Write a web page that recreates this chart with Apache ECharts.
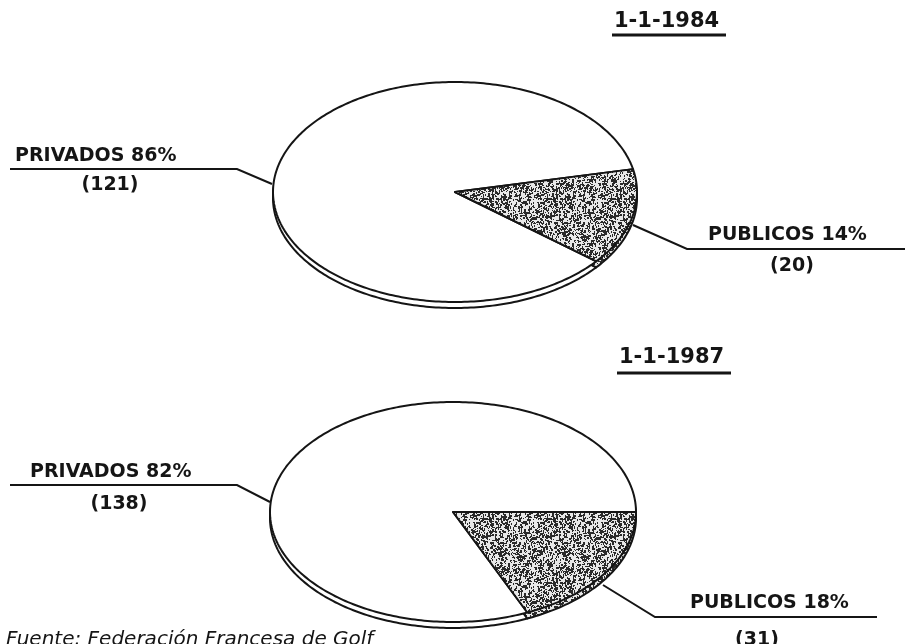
<!DOCTYPE html>
<html>
<head>
<meta charset="utf-8">
<script src="https://cdn.jsdelivr.net/npm/echarts@6/dist/echarts.min.js"></script>
<style>
html, body { margin: 0; padding: 0; background: #fff; }
#main { width: 905px; height: 644px; }
</style>
</head>
<body>
<div id="main"></div>
<script>
// datos
var categories = ['PRIVADOS', 'PUBLICOS'];
var dates = ['1-1-1984', '1-1-1987'];
var counts1984 = [121, 20];
var counts1987 = [138, 31];
var percents1984 = [86, 14];
var percents1987 = [82, 18];
var source = 'Fuente: Federación Francesa de Golf';

var counts = [counts1984, counts1987];
var percents = [percents1984, percents1987];

// disco inclinado: elipse + canto
var pies = [
    {cx: 455, cy: 192, rx: 182, ry: 110, start: 12},
    {cx: 453, cy: 512, rx: 183, ry: 110, start: 0}
];
var depth = 6;
var ink = '#151515';
var FONT = 'DejaVu Sans';

// trama punteada para PUBLICOS
function makeStipple() {
    var size = 64;
    var c = document.createElement('canvas');
    c.width = c.height = size;
    var g = c.getContext('2d');
    g.fillStyle = '#e8e8e8';
    g.fillRect(0, 0, size, size);
    g.fillStyle = '#2a2a2a';
    var s = 12345;
    function next() { s = (s * 16807) % 2147483647; return s; }
    for (var n = 0; n < 1300; n++) {
        var x = next() % size, y = next() % size;
        var w = (next() % 3 === 0) ? 2 : 1;
        var h = (next() % 2 === 0) ? 2 : 1;
        g.fillRect(x, y, w, h);
    }
    return c;
}
var stipple = {image: makeStipple(), repeat: 'repeat'};

var pieData = [];
for (var p = 0; p < counts.length; p++) {
    for (var i = 0; i < categories.length; i++) {
        pieData.push([p, i, counts[p][i]]);
    }
}

// sector elíptico como polígono
function ellipseSector(pie, dy, a0, a1) {
    var pts = [[pie.cx, pie.cy + dy]];
    var steps = Math.max(2, Math.ceil((a1 - a0) / (Math.PI / 180)));
    for (var s = 0; s <= steps; s++) {
        var a = a0 + (a1 - a0) * s / steps;
        pts.push([pie.cx + pie.rx * Math.cos(a), pie.cy + dy + pie.ry * Math.sin(a)]);
    }
    return pts;
}

function renderItem(params, api) {
    var p = api.value(0), i = api.value(1), v = api.value(2);
    var pie = pies[p];
    var total = counts[p].reduce(function (a, b) { return a + b; }, 0);
    var order = [1, 0]; // PUBLICOS primero, en sentido horario
    var a0 = -pie.start * Math.PI / 180;
    for (var k = 0; k < order.length && order[k] !== i; k++) {
        a0 += counts[p][order[k]] / total * Math.PI * 2;
    }
    var a1 = a0 + v / total * Math.PI * 2;
    var fill = i === 1 ? stipple : '#fff';
    function face(dy, z2) {
        return {
            type: 'polygon',
            z2: z2,
            shape: {points: ellipseSector(pie, dy, a0, a1)},
            style: {fill: fill, stroke: ink, lineWidth: 2, lineJoin: 'round'}
        };
    }
    return {type: 'group', children: [face(depth, 1), face(0, 2)]};
}

// posiciones de etiquetas
var labelPos = [
    [
        {tx: 15, ty: 156, nx: 110, ny: 185, line: [[10, 169], [237, 169], [272, 184]]},
        {tx: 708, ty: 235, nx: 792, ny: 266, line: [[633, 225], [687, 249], [905, 249]]}
    ],
    [
        {tx: 30, ty: 472, nx: 119, ny: 504, line: [[10, 485], [237, 485], [270, 502]]},
        {tx: 690, ty: 603, nx: 757, ny: 640, line: [[603, 585], [655, 617], [877, 617]]}
    ]
];
var titlePos = [{x: 614, y: 22, y2: 35}, {x: 619, y: 358, y2: 373}];

var graphics = [];
for (var p = 0; p < dates.length; p++) {
    var t = titlePos[p];
    graphics.push({
        type: 'text', x: t.x, y: t.y,
        style: {text: dates[p], font: 'bold 21px ' + FONT, fill: ink, textVerticalAlign: 'middle'}
    });
    graphics.push({
        type: 'line', shape: {x1: t.x - 2, y1: t.y2, x2: t.x + 112, y2: t.y2},
        style: {stroke: ink, lineWidth: 3}
    });
    for (var i = 0; i < categories.length; i++) {
        var L = labelPos[p][i];
        graphics.push({
            type: 'text', x: L.tx, y: L.ty,
            style: {text: categories[i] + ' ' + percents[p][i] + '%', font: '600 19px ' + FONT, fill: ink, textVerticalAlign: 'middle'}
        });
        graphics.push({
            type: 'text', x: L.nx, y: L.ny,
            style: {text: '(' + counts[p][i] + ')', font: '600 19px ' + FONT, fill: ink, textAlign: 'center', textVerticalAlign: 'middle'}
        });
        graphics.push({
            type: 'polyline', shape: {points: L.line},
            style: {stroke: ink, lineWidth: 2, fill: null}
        });
    }
}
graphics.push({
    type: 'text', x: 6, y: 630,
    style: {text: source, font: 'italic 20px ' + FONT, fill: ink}
});

var chart = echarts.init(document.getElementById('main'));
var option = {
    backgroundColor: '#fff',
    animation: false,
    graphic: graphics,
    series: [{
        type: 'custom',
        coordinateSystem: 'none',
        silent: true,
        renderItem: renderItem,
        data: pieData
    }]
};
chart.setOption(option);
</script>
</body>
</html>
